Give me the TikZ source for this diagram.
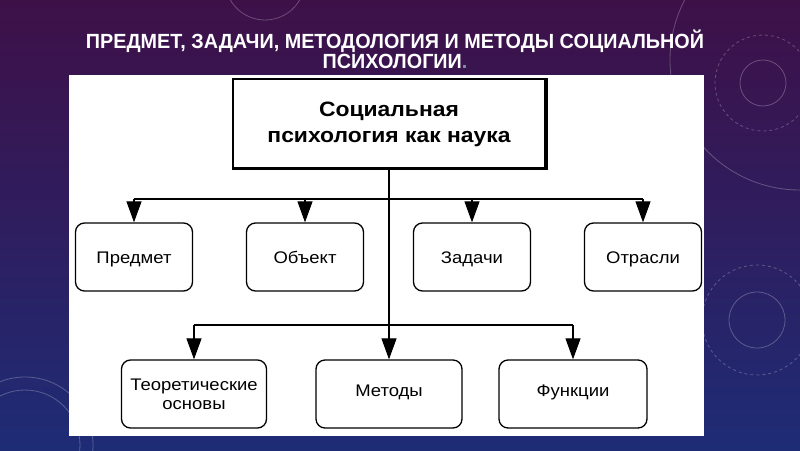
\documentclass[tikz,border=0pt]{standalone}
\usepackage{fontspec}
\setmainfont{Liberation Sans}
\newfontfamily\titlefont[FakeStretch=0.965]{Liberation Sans}
\newfontfamily\boxfont[FakeStretch=1.1]{Liberation Sans}
\usetikzlibrary{arrows.meta}

\definecolor{bgtop}{RGB}{62,16,72}
\definecolor{bgbot}{RGB}{30,44,118}
\definecolor{dotgray}{RGB}{130,140,175}

\begin{document}
\begin{tikzpicture}[x=1pt, y=-1pt,
  box/.style={draw, line width=1.3pt, rounded corners=9pt, fill=white, inner sep=0pt,
    align=center, minimum height=68pt, font=\boxfont\fontsize{16.8}{19}\selectfont},
  oneline/.style={text height=12pt, text depth=0pt},
  lowline/.style={text height=12pt, text depth=8pt},
  arr/.style={-{Triangle[length=21pt,width=15pt]}, line width=1.1pt},
  deco/.style={white, opacity=0.25, line width=0.8pt}]

\useasboundingbox (0,0) rectangle (800,450);
\shade[top color=bgtop, bottom color=bgbot] (0,0) rectangle (800,450);

\begin{scope}
\clip (0,0) rectangle (800,450);
\draw[deco] (763,83) circle (23);
\draw[deco, dashed] (763,83) circle (48);
\draw[deco] (757,320) circle (28);
\draw[deco, dashed] (757,320) circle (55);
\draw[deco] (800,60) circle (130);
\draw[deco] (25,445) circle (55);
\draw[deco] (25,445) circle (68);
\draw[deco] (265,-20) circle (40);
\end{scope}

\node[text=white, font=\titlefont\bfseries\fontsize{20.5}{22}\selectfont, anchor=base] (title1) at (395,48) {ПРЕДМЕТ, ЗАДАЧИ, МЕТОДОЛОГИЯ И МЕТОДЫ СОЦИАЛЬНОЙ};
\node[text=white, font=\titlefont\bfseries\fontsize{20.5}{22}\selectfont, anchor=base] (title2) at (395,68) {ПСИХОЛОГИИ\textcolor{dotgray}{.}};

\fill[white] (69,75) rectangle (704,436);

\node[draw, line width=1.4pt, minimum width=312pt, minimum height=90pt, align=center,
  font=\boxfont\bfseries\fontsize{20.8}{26}\selectfont] (nauka) at (389,124) {Социальная\\психология как наука};
\draw[line width=3.5pt] ([xshift=1pt]nauka.north east) -- ([shift={(1pt,1pt)}]nauka.south east) -- ([yshift=1pt]nauka.south west);

\node[box, oneline, minimum width=117pt] (predmet) at (134,257) {Предмет};
\node[box, oneline, minimum width=117pt] (obekt) at (305,257) {Объект};
\node[box, oneline, minimum width=117pt] (zadachi) at (472,257) {Задачи};
\node[box, oneline, minimum width=117pt] (otrasli) at (643,257) {Отрасли};

\node[box, minimum width=145pt] (teoria) at (194,394) {Теоретические\\основы};
\node[box, lowline, minimum width=146pt] (metody) at (389,394) {Методы};
\node[box, lowline, minimum width=148pt] (funkcii) at (573,394) {Функции};

\coordinate (bus1) at (389,199);
\coordinate (bus2) at (389,325);

\draw[arr] (nauka.south) -- (metody.north);
\draw[line width=1.1pt] (predmet.north |- bus1) -- (otrasli.north |- bus1);
\foreach \n in {predmet, obekt, zadachi, otrasli}
  \draw[arr] (\n.north |- bus1) -- (\n.north);
\draw[line width=1.1pt] (teoria.north |- bus2) -- (funkcii.north |- bus2);
\foreach \n in {teoria, funkcii}
  \draw[arr] (\n.north |- bus2) -- (\n.north);

\end{tikzpicture}
\end{document}
